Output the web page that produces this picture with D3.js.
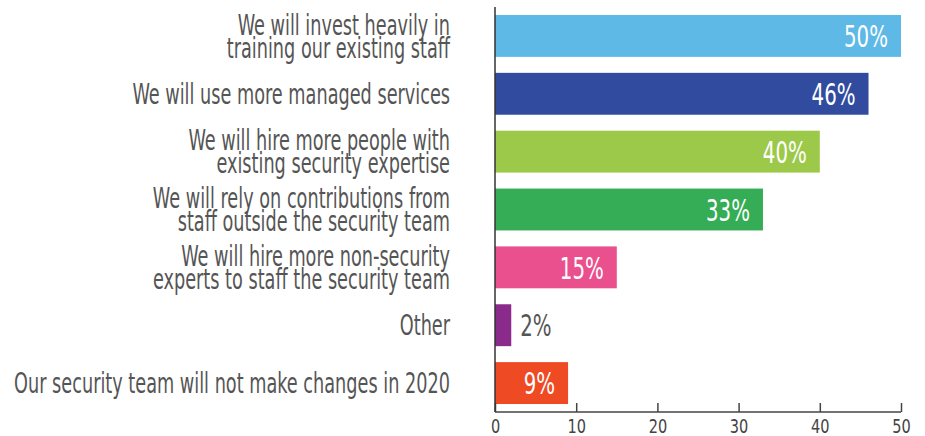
<!DOCTYPE html>
<html>
<head>
<meta charset="utf-8">
<script src="https://cdn.jsdelivr.net/npm/d3@7"></script>
<style>
  body { margin: 0; background: #fff; }
  svg { display: block; }
  .lbl { font-family: "Liberation Sans Narrow", "DejaVu Sans Condensed", sans-serif; fill: #555; }
</style>
</head>
<body>
<div id="chart"></div>
<script>
// answers, top to bottom (each label split into its lines)
var answers = [
  ["We will invest heavily in", "training our existing staff"],
  ["We will use more managed services"],
  ["We will hire more people with", "existing security expertise"],
  ["We will rely on contributions from", "staff outside the security team"],
  ["We will hire more non-security", "experts to staff the security team"],
  ["Other"],
  ["Our security team will not make changes in 2020"]
];
var percents = [50, 46, 40, 33, 15, 2, 9];
var barColors = ["#5EB9E6", "#314C9F", "#9DC94B", "#35AD56", "#EA4F8E", "#8A2A8A", "#EE4A24"];
var xTicks = [0, 10, 20, 30, 40, 50];

var width = 925, height = 436;
var margin = {top: 7, right: 24, bottom: 24, left: 495};

var svg = d3.select("#chart").append("svg")
    .attr("width", width)
    .attr("height", height);

var x = d3.scaleLinear().domain([0, 50]).range([margin.left, width - margin.right]);
var y = d3.scaleBand()
    .domain(d3.range(answers.length))
    .range([margin.top, height - margin.bottom])
    .paddingInner(0.276)
    .paddingOuter(0.138);

// bars
svg.selectAll("rect.bar")
    .data(percents)
  .enter().append("rect")
    .attr("class", "bar")
    .attr("x", x(0))
    .attr("y", function(d, i) { return y(i); })
    .attr("width", function(d) { return x(d) - x(0); })
    .attr("height", y.bandwidth())
    .attr("fill", function(d, i) { return barColors[i]; });

// value labels: inside in white, outside in grey when bar is too short
var vals = svg.selectAll("g.val")
    .data(percents)
  .enter().append("g")
    .attr("class", "val")
    .attr("transform", function(d, i) {
      var px = d >= 5 ? x(d) - 13 : x(d) + 9;
      return "translate(" + px + "," + (y(i) + y.bandwidth() / 2) + ")";
    });
vals.append("text")
    .attr("class", "lbl")
    .attr("font-size", 31)
    .attr("dy", "0.36em")
    .attr("text-anchor", function(d) { return d >= 5 ? "end" : "start"; })
    .style("fill", function(d) { return d >= 5 ? "#fff" : "#555"; })
    .text(function(d) { return d + "%"; });
var vsx = 44 / vals.select("text").node().getComputedTextLength();
vals.select("text").attr("transform", "scale(" + vsx + ",1)");

// category labels
var lineH = 23;
var cats = svg.selectAll("g.cat")
    .data(answers)
  .enter().append("g")
    .attr("class", "cat")
    .attr("transform", function(d, i) {
      return "translate(450," + (y(i) + y.bandwidth() / 2) + ")";
    });

cats.append("text")
    .attr("class", "lbl")
    .attr("font-size", 28)
    .attr("text-anchor", "end")
    .each(function(lines) {
      var t = d3.select(this);
      var off = -(lines.length - 1) * lineH / 2;
      lines.forEach(function(s, k) {
        t.append("tspan")
          .attr("x", 0)
          .attr("y", off + k * lineH)
          .attr("dy", "0.36em")
          .text(s);
      });
    });

// squeeze labels horizontally to match the condensed face
var longest = cats.filter(function(d, i) { return i === answers.length - 1; }).select("text").node();
var sx = 436 / longest.getComputedTextLength();
cats.select("text").attr("transform", "scale(" + sx + ",1)");

// x axis
var axisY = height - margin.bottom;
var xAxis = svg.append("g")
    .attr("transform", "translate(0," + axisY + ")")
    .call(d3.axisBottom(x).tickValues(xTicks).tickSize(-9).tickPadding(8));
xAxis.select(".domain").attr("stroke", "#444").attr("stroke-width", 1.5).attr("d", "M" + x(0) + ",0H" + x(50));
xAxis.selectAll(".tick line").attr("stroke", "#444").attr("stroke-width", 1.5);
xAxis.selectAll(".tick text")
    .attr("class", "lbl")
    .attr("font-size", 19)
    .style("fill", "#444")
    .attr("transform", "scale(0.85,1)");
</script>
<script>
// y axis line drawn over bars' left edge
d3.select("svg").append("line")
    .attr("x1", 495).attr("x2", 495)
    .attr("y1", 7).attr("y2", 412)
    .attr("stroke", "#333")
    .attr("stroke-width", 1.5);
</script>
</body>
</html>
